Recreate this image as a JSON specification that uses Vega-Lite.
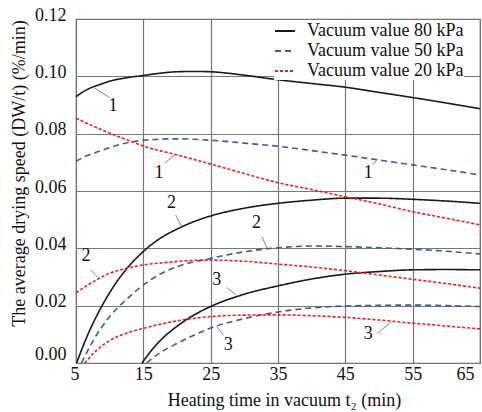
{
  "$schema": "https://vega.github.io/schema/vega-lite/v6.json",
  "width": 404,
  "height": 344,
  "autosize": {"type": "none"},
  "padding": {"left": 76, "top": 19, "right": 2, "bottom": 49},
  "background": "white",
  "config": {
    "font": "Liberation Serif, Times New Roman, DejaVu Serif, serif",
    "view": {"stroke": "#666666", "strokeWidth": 1.2},
    "axis": {
      "labelFont": "Liberation Serif, Times New Roman, DejaVu Serif, serif",
      "labelFontSize": 18,
      "labelColor": "#111111",
      "titleFont": "Liberation Serif, Times New Roman, DejaVu Serif, serif",
      "titleFontSize": 18,
      "titleFontWeight": "normal",
      "titleColor": "#111111",
      "domain": false,
      "ticks": false,
      "tickSize": 0,
      "grid": true,
      "gridColor": "#777777",
      "gridWidth": 1.2,
      "labelOverlap": false,
      "labelBound": false
    },
    "legend": {
      "orient": "none",
      "legendX": 198,
      "legendY": 1,
      "padding": 0,
      "fillColor": "white",
      "symbolType": "stroke",
      "symbolSize": 400,
      "symbolStrokeWidth": 2,
      "labelFont": "Liberation Serif, Times New Roman, DejaVu Serif, serif",
      "labelFontSize": 18,
      "labelColor": "#111111",
      "labelOffset": 11,
      "rowPadding": 0,
      "title": null
    }
  },
  "datasets": {
    "curves": [
      {"vacuum": "Vacuum value 80 kPa", "curve": 1, "t": 5, "v": 0.0929},
      {"vacuum": "Vacuum value 80 kPa", "curve": 1, "t": 6, "v": 0.0945},
      {"vacuum": "Vacuum value 80 kPa", "curve": 1, "t": 7, "v": 0.0958},
      {"vacuum": "Vacuum value 80 kPa", "curve": 1, "t": 8.6, "v": 0.0972},
      {"vacuum": "Vacuum value 80 kPa", "curve": 1, "t": 10, "v": 0.0983},
      {"vacuum": "Vacuum value 80 kPa", "curve": 1, "t": 12.5, "v": 0.0995},
      {"vacuum": "Vacuum value 80 kPa", "curve": 1, "t": 15, "v": 0.1003},
      {"vacuum": "Vacuum value 80 kPa", "curve": 1, "t": 17.5, "v": 0.1011},
      {"vacuum": "Vacuum value 80 kPa", "curve": 1, "t": 20, "v": 0.1016},
      {"vacuum": "Vacuum value 80 kPa", "curve": 1, "t": 22.5, "v": 0.1017},
      {"vacuum": "Vacuum value 80 kPa", "curve": 1, "t": 25, "v": 0.1016},
      {"vacuum": "Vacuum value 80 kPa", "curve": 1, "t": 27.5, "v": 0.1011},
      {"vacuum": "Vacuum value 80 kPa", "curve": 1, "t": 30, "v": 0.1004},
      {"vacuum": "Vacuum value 80 kPa", "curve": 1, "t": 35, "v": 0.0988},
      {"vacuum": "Vacuum value 80 kPa", "curve": 1, "t": 40, "v": 0.0975},
      {"vacuum": "Vacuum value 80 kPa", "curve": 1, "t": 45, "v": 0.0962},
      {"vacuum": "Vacuum value 80 kPa", "curve": 1, "t": 50, "v": 0.0944},
      {"vacuum": "Vacuum value 80 kPa", "curve": 1, "t": 55, "v": 0.0926},
      {"vacuum": "Vacuum value 80 kPa", "curve": 1, "t": 60, "v": 0.0907},
      {"vacuum": "Vacuum value 80 kPa", "curve": 1, "t": 65, "v": 0.0887},
      {"vacuum": "Vacuum value 80 kPa", "curve": 2, "t": 5.1, "v": 0},
      {"vacuum": "Vacuum value 80 kPa", "curve": 2, "t": 6, "v": 0.0056},
      {"vacuum": "Vacuum value 80 kPa", "curve": 2, "t": 7, "v": 0.0112},
      {"vacuum": "Vacuum value 80 kPa", "curve": 2, "t": 8.6, "v": 0.0188},
      {"vacuum": "Vacuum value 80 kPa", "curve": 2, "t": 10.5, "v": 0.0264},
      {"vacuum": "Vacuum value 80 kPa", "curve": 2, "t": 12.5, "v": 0.0328},
      {"vacuum": "Vacuum value 80 kPa", "curve": 2, "t": 15, "v": 0.0389},
      {"vacuum": "Vacuum value 80 kPa", "curve": 2, "t": 17.5, "v": 0.0435},
      {"vacuum": "Vacuum value 80 kPa", "curve": 2, "t": 20, "v": 0.0467},
      {"vacuum": "Vacuum value 80 kPa", "curve": 2, "t": 22.5, "v": 0.0493},
      {"vacuum": "Vacuum value 80 kPa", "curve": 2, "t": 25, "v": 0.0513},
      {"vacuum": "Vacuum value 80 kPa", "curve": 2, "t": 30, "v": 0.0540},
      {"vacuum": "Vacuum value 80 kPa", "curve": 2, "t": 35, "v": 0.0557},
      {"vacuum": "Vacuum value 80 kPa", "curve": 2, "t": 40, "v": 0.0568},
      {"vacuum": "Vacuum value 80 kPa", "curve": 2, "t": 45, "v": 0.0575},
      {"vacuum": "Vacuum value 80 kPa", "curve": 2, "t": 50, "v": 0.0575},
      {"vacuum": "Vacuum value 80 kPa", "curve": 2, "t": 55, "v": 0.0571},
      {"vacuum": "Vacuum value 80 kPa", "curve": 2, "t": 60, "v": 0.0565},
      {"vacuum": "Vacuum value 80 kPa", "curve": 2, "t": 65, "v": 0.0557},
      {"vacuum": "Vacuum value 80 kPa", "curve": 3, "t": 14.8, "v": 0},
      {"vacuum": "Vacuum value 80 kPa", "curve": 3, "t": 16, "v": 0.0038},
      {"vacuum": "Vacuum value 80 kPa", "curve": 3, "t": 17.5, "v": 0.0078},
      {"vacuum": "Vacuum value 80 kPa", "curve": 3, "t": 20, "v": 0.0128},
      {"vacuum": "Vacuum value 80 kPa", "curve": 3, "t": 22.5, "v": 0.0167},
      {"vacuum": "Vacuum value 80 kPa", "curve": 3, "t": 25, "v": 0.0197},
      {"vacuum": "Vacuum value 80 kPa", "curve": 3, "t": 30, "v": 0.024},
      {"vacuum": "Vacuum value 80 kPa", "curve": 3, "t": 35, "v": 0.0269},
      {"vacuum": "Vacuum value 80 kPa", "curve": 3, "t": 40, "v": 0.0293},
      {"vacuum": "Vacuum value 80 kPa", "curve": 3, "t": 45, "v": 0.031},
      {"vacuum": "Vacuum value 80 kPa", "curve": 3, "t": 50, "v": 0.0319},
      {"vacuum": "Vacuum value 80 kPa", "curve": 3, "t": 55, "v": 0.0325},
      {"vacuum": "Vacuum value 80 kPa", "curve": 3, "t": 60, "v": 0.0326},
      {"vacuum": "Vacuum value 80 kPa", "curve": 3, "t": 65, "v": 0.0325},
      {"vacuum": "Vacuum value 50 kPa", "curve": 1, "t": 5, "v": 0.0704},
      {"vacuum": "Vacuum value 50 kPa", "curve": 1, "t": 6.5, "v": 0.0722},
      {"vacuum": "Vacuum value 50 kPa", "curve": 1, "t": 8.6, "v": 0.074},
      {"vacuum": "Vacuum value 50 kPa", "curve": 1, "t": 11.5, "v": 0.0762},
      {"vacuum": "Vacuum value 50 kPa", "curve": 1, "t": 15, "v": 0.0777},
      {"vacuum": "Vacuum value 50 kPa", "curve": 1, "t": 20, "v": 0.0782},
      {"vacuum": "Vacuum value 50 kPa", "curve": 1, "t": 25, "v": 0.0777},
      {"vacuum": "Vacuum value 50 kPa", "curve": 1, "t": 30, "v": 0.0767},
      {"vacuum": "Vacuum value 50 kPa", "curve": 1, "t": 35, "v": 0.0756},
      {"vacuum": "Vacuum value 50 kPa", "curve": 1, "t": 40, "v": 0.0741},
      {"vacuum": "Vacuum value 50 kPa", "curve": 1, "t": 45, "v": 0.0725},
      {"vacuum": "Vacuum value 50 kPa", "curve": 1, "t": 50, "v": 0.0708},
      {"vacuum": "Vacuum value 50 kPa", "curve": 1, "t": 55, "v": 0.0691},
      {"vacuum": "Vacuum value 50 kPa", "curve": 1, "t": 60, "v": 0.0674},
      {"vacuum": "Vacuum value 50 kPa", "curve": 1, "t": 65, "v": 0.0656},
      {"vacuum": "Vacuum value 50 kPa", "curve": 2, "t": 5.8, "v": 0},
      {"vacuum": "Vacuum value 50 kPa", "curve": 2, "t": 6.5, "v": 0.0032},
      {"vacuum": "Vacuum value 50 kPa", "curve": 2, "t": 7.6, "v": 0.008},
      {"vacuum": "Vacuum value 50 kPa", "curve": 2, "t": 10, "v": 0.0162},
      {"vacuum": "Vacuum value 50 kPa", "curve": 2, "t": 12.5, "v": 0.0222},
      {"vacuum": "Vacuum value 50 kPa", "curve": 2, "t": 15, "v": 0.0272},
      {"vacuum": "Vacuum value 50 kPa", "curve": 2, "t": 17.5, "v": 0.031},
      {"vacuum": "Vacuum value 50 kPa", "curve": 2, "t": 20, "v": 0.0336},
      {"vacuum": "Vacuum value 50 kPa", "curve": 2, "t": 25, "v": 0.0365},
      {"vacuum": "Vacuum value 50 kPa", "curve": 2, "t": 30, "v": 0.0388},
      {"vacuum": "Vacuum value 50 kPa", "curve": 2, "t": 35, "v": 0.0402},
      {"vacuum": "Vacuum value 50 kPa", "curve": 2, "t": 40, "v": 0.0408},
      {"vacuum": "Vacuum value 50 kPa", "curve": 2, "t": 45, "v": 0.0406},
      {"vacuum": "Vacuum value 50 kPa", "curve": 2, "t": 50, "v": 0.0402},
      {"vacuum": "Vacuum value 50 kPa", "curve": 2, "t": 55, "v": 0.0397},
      {"vacuum": "Vacuum value 50 kPa", "curve": 2, "t": 60, "v": 0.039},
      {"vacuum": "Vacuum value 50 kPa", "curve": 2, "t": 65, "v": 0.038},
      {"vacuum": "Vacuum value 50 kPa", "curve": 3, "t": 15.5, "v": 0},
      {"vacuum": "Vacuum value 50 kPa", "curve": 3, "t": 17.5, "v": 0.0036},
      {"vacuum": "Vacuum value 50 kPa", "curve": 3, "t": 20, "v": 0.0068},
      {"vacuum": "Vacuum value 50 kPa", "curve": 3, "t": 22.5, "v": 0.0097},
      {"vacuum": "Vacuum value 50 kPa", "curve": 3, "t": 25, "v": 0.0122},
      {"vacuum": "Vacuum value 50 kPa", "curve": 3, "t": 30, "v": 0.0155},
      {"vacuum": "Vacuum value 50 kPa", "curve": 3, "t": 35, "v": 0.0178},
      {"vacuum": "Vacuum value 50 kPa", "curve": 3, "t": 40, "v": 0.0192},
      {"vacuum": "Vacuum value 50 kPa", "curve": 3, "t": 45, "v": 0.0199},
      {"vacuum": "Vacuum value 50 kPa", "curve": 3, "t": 50, "v": 0.0201},
      {"vacuum": "Vacuum value 50 kPa", "curve": 3, "t": 55, "v": 0.0202},
      {"vacuum": "Vacuum value 50 kPa", "curve": 3, "t": 60, "v": 0.02},
      {"vacuum": "Vacuum value 50 kPa", "curve": 3, "t": 65, "v": 0.0197},
      {"vacuum": "Vacuum value 20 kPa", "curve": 1, "t": 5, "v": 0.0854},
      {"vacuum": "Vacuum value 20 kPa", "curve": 1, "t": 7.5, "v": 0.0827},
      {"vacuum": "Vacuum value 20 kPa", "curve": 1, "t": 10, "v": 0.0802},
      {"vacuum": "Vacuum value 20 kPa", "curve": 1, "t": 12.5, "v": 0.0779},
      {"vacuum": "Vacuum value 20 kPa", "curve": 1, "t": 15, "v": 0.0757},
      {"vacuum": "Vacuum value 20 kPa", "curve": 1, "t": 20, "v": 0.0726},
      {"vacuum": "Vacuum value 20 kPa", "curve": 1, "t": 25, "v": 0.0694},
      {"vacuum": "Vacuum value 20 kPa", "curve": 1, "t": 30, "v": 0.0661},
      {"vacuum": "Vacuum value 20 kPa", "curve": 1, "t": 35, "v": 0.0629},
      {"vacuum": "Vacuum value 20 kPa", "curve": 1, "t": 40, "v": 0.0605},
      {"vacuum": "Vacuum value 20 kPa", "curve": 1, "t": 45, "v": 0.058},
      {"vacuum": "Vacuum value 20 kPa", "curve": 1, "t": 50, "v": 0.0555},
      {"vacuum": "Vacuum value 20 kPa", "curve": 1, "t": 55, "v": 0.0528},
      {"vacuum": "Vacuum value 20 kPa", "curve": 1, "t": 60, "v": 0.0505},
      {"vacuum": "Vacuum value 20 kPa", "curve": 1, "t": 65, "v": 0.0482},
      {"vacuum": "Vacuum value 20 kPa", "curve": 2, "t": 5, "v": 0.0245},
      {"vacuum": "Vacuum value 20 kPa", "curve": 2, "t": 7.6, "v": 0.0284},
      {"vacuum": "Vacuum value 20 kPa", "curve": 2, "t": 10, "v": 0.0313},
      {"vacuum": "Vacuum value 20 kPa", "curve": 2, "t": 12.5, "v": 0.033},
      {"vacuum": "Vacuum value 20 kPa", "curve": 2, "t": 15, "v": 0.0342},
      {"vacuum": "Vacuum value 20 kPa", "curve": 2, "t": 18.5, "v": 0.0351},
      {"vacuum": "Vacuum value 20 kPa", "curve": 2, "t": 21.5, "v": 0.0357},
      {"vacuum": "Vacuum value 20 kPa", "curve": 2, "t": 25, "v": 0.0359},
      {"vacuum": "Vacuum value 20 kPa", "curve": 2, "t": 30, "v": 0.0355},
      {"vacuum": "Vacuum value 20 kPa", "curve": 2, "t": 35, "v": 0.0345},
      {"vacuum": "Vacuum value 20 kPa", "curve": 2, "t": 40, "v": 0.0335},
      {"vacuum": "Vacuum value 20 kPa", "curve": 2, "t": 45, "v": 0.0322},
      {"vacuum": "Vacuum value 20 kPa", "curve": 2, "t": 50, "v": 0.0307},
      {"vacuum": "Vacuum value 20 kPa", "curve": 2, "t": 55, "v": 0.0292},
      {"vacuum": "Vacuum value 20 kPa", "curve": 2, "t": 60, "v": 0.0277},
      {"vacuum": "Vacuum value 20 kPa", "curve": 2, "t": 65, "v": 0.0261},
      {"vacuum": "Vacuum value 20 kPa", "curve": 3, "t": 6.3, "v": 0},
      {"vacuum": "Vacuum value 20 kPa", "curve": 3, "t": 7, "v": 0.0018},
      {"vacuum": "Vacuum value 20 kPa", "curve": 3, "t": 7.6, "v": 0.0034},
      {"vacuum": "Vacuum value 20 kPa", "curve": 3, "t": 8.6, "v": 0.0055},
      {"vacuum": "Vacuum value 20 kPa", "curve": 3, "t": 10, "v": 0.0078},
      {"vacuum": "Vacuum value 20 kPa", "curve": 3, "t": 12.5, "v": 0.0104},
      {"vacuum": "Vacuum value 20 kPa", "curve": 3, "t": 15, "v": 0.0121},
      {"vacuum": "Vacuum value 20 kPa", "curve": 3, "t": 17.5, "v": 0.0135},
      {"vacuum": "Vacuum value 20 kPa", "curve": 3, "t": 20, "v": 0.0147},
      {"vacuum": "Vacuum value 20 kPa", "curve": 3, "t": 25, "v": 0.0162},
      {"vacuum": "Vacuum value 20 kPa", "curve": 3, "t": 30, "v": 0.0167},
      {"vacuum": "Vacuum value 20 kPa", "curve": 3, "t": 35, "v": 0.0168},
      {"vacuum": "Vacuum value 20 kPa", "curve": 3, "t": 40, "v": 0.0165},
      {"vacuum": "Vacuum value 20 kPa", "curve": 3, "t": 45, "v": 0.0159},
      {"vacuum": "Vacuum value 20 kPa", "curve": 3, "t": 50, "v": 0.015},
      {"vacuum": "Vacuum value 20 kPa", "curve": 3, "t": 55, "v": 0.0139},
      {"vacuum": "Vacuum value 20 kPa", "curve": 3, "t": 60, "v": 0.0129},
      {"vacuum": "Vacuum value 20 kPa", "curve": 3, "t": 65, "v": 0.0119}
    ],
    "labels": [
      {"label": "1", "t": 10.5, "v": 0.0897},
      {"label": "1", "t": 17.33, "v": 0.0663},
      {"label": "1", "t": 48.4, "v": 0.0662},
      {"label": "2", "t": 19.2, "v": 0.0557},
      {"label": "2", "t": 6.49, "v": 0.0373},
      {"label": "2", "t": 31.8, "v": 0.0488},
      {"label": "3", "t": 25.9, "v": 0.029},
      {"label": "3", "t": 27.6, "v": 0.0063},
      {"label": "3", "t": 48.4, "v": 0.0101}
    ],
    "leaders": [
      {"t": 7.52, "v": 0.0963, "t2": 10.05, "v2": 0.0925},
      {"t": 18.2, "v": 0.0698, "t2": 19.7, "v2": 0.0726},
      {"t": 49.06, "v": 0.0691, "t2": 49.66, "v2": 0.0708},
      {"t": 19.8, "v": 0.0516, "t2": 20.7, "v2": 0.0476},
      {"t": 7.18, "v": 0.0325, "t2": 8.3, "v2": 0.0298},
      {"t": 32.6, "v": 0.0441, "t2": 33.4, "v2": 0.04},
      {"t": 27.4, "v": 0.0263, "t2": 28.8, "v2": 0.0237},
      {"t": 25.9, "v": 0.0127, "t2": 26.9, "v2": 0.0098},
      {"t": 49.75, "v": 0.0104, "t2": 51.9, "v2": 0.0144}
    ]
  },
  "layer": [
    {
      "data": {"name": "curves"},
      "mark": {"type": "line", "interpolate": "monotone", "strokeWidth": 1.6},
      "encoding": {
        "x": {
          "field": "t", "type": "quantitative",
          "scale": {"domain": [5, 65], "nice": false, "zero": false},
          "axis": {
            "values": [5, 15, 25, 35, 45, 55, 65],
            "title": "Heating time in vacuum t₂ (min)",
            "labelPadding": 2,
            "labelOffset": {"condition": {"test": "datum.value == 5 || datum.value == 65", "value": -6}, "value": 0},
            "titleX": 208,
            "titleY": 42,
            "titleBaseline": "alphabetic"
          }
        },
        "y": {
          "field": "v", "type": "quantitative",
          "scale": {"domain": [0, 0.12], "nice": false},
          "axis": {
            "values": [0, 0.02, 0.04, 0.06, 0.08, 0.1, 0.12],
            "format": ".2f",
            "title": "The average drying speed (DW/t) (%/min)",
            "labelPadding": 10,
            "labelOffset": {"condition": {"test": "datum.value == 0", "value": -9}, "value": -4},
            "titleX": -52,
            "titleY": 154,
            "titleAngle": -90,
            "titleAlign": "center",
            "titleBaseline": "alphabetic"
          }
        },
        "color": {
          "field": "vacuum", "type": "nominal",
          "scale": {
            "domain": ["Vacuum value 80 kPa", "Vacuum value 50 kPa", "Vacuum value 20 kPa"],
            "range": ["#1a1a1a", "#3d5f8f", "#ee1c1c"]
          },
          "legend": {"title": null}
        },
        "strokeDash": {
          "field": "vacuum", "type": "nominal",
          "scale": {
            "domain": ["Vacuum value 80 kPa", "Vacuum value 50 kPa", "Vacuum value 20 kPa"],
            "range": [[1, 0], [6, 4], [3, 2]]
          },
          "legend": {"title": null}
        },
        "detail": {"field": "curve", "type": "nominal"}
      }
    },
    {
      "data": {"name": "leaders"},
      "mark": {"type": "rule", "color": "#888888", "strokeWidth": 1},
      "encoding": {
        "x": {"field": "t", "type": "quantitative"},
        "y": {"field": "v", "type": "quantitative"},
        "x2": {"field": "t2"},
        "y2": {"field": "v2"}
      }
    },
    {
      "data": {"name": "labels"},
      "mark": {"type": "text", "font": "Liberation Serif, Times New Roman, DejaVu Serif, serif", "fontSize": 18, "color": "#111111", "align": "center", "baseline": "middle"},
      "encoding": {
        "x": {"field": "t", "type": "quantitative"},
        "y": {"field": "v", "type": "quantitative"},
        "text": {"field": "label", "type": "nominal"}
      }
    }
  ]
}
